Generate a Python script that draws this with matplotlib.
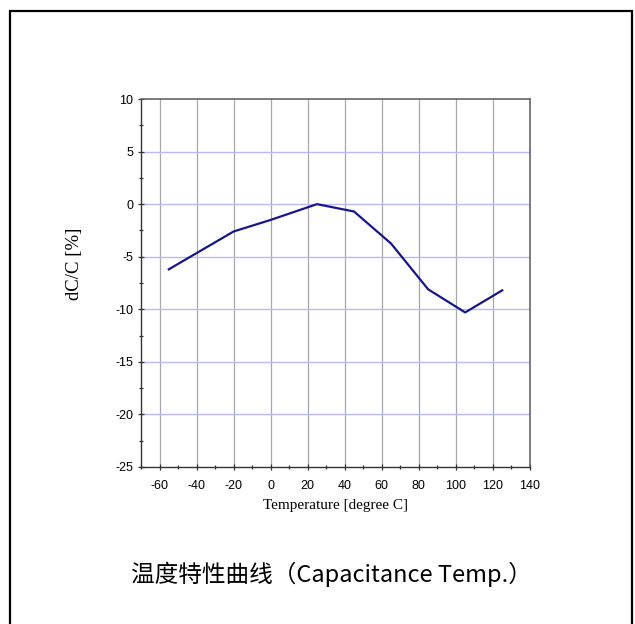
import matplotlib
matplotlib.use("Agg")
import matplotlib.pyplot as plt
from matplotlib.patches import Rectangle
from matplotlib.ticker import MultipleLocator

plt.rcParams['axes.unicode_minus'] = False

# values
temperature = [-55, -20, 0, 25, 45, 65, 85, 105, 125]
dcc = [-6.2, -2.6, -1.5, 0.0, -0.7, -3.75, -8.1, -10.3, -8.2]

x_ticks = [-60, -40, -20, 0, 20, 40, 60, 80, 100, 120, 140]
y_ticks = [10, 5, 0, -5, -10, -15, -20, -25]

fig = plt.figure(figsize=(6.35, 6.24), dpi=100)
W, H = 635, 624

# outer frame (bottom edge runs off the picture)
fig.patches.append(Rectangle((10 / W, -0.05), 622 / W, 1.05 - 11 / H,
                             transform=fig.transFigure, fill=False,
                             edgecolor='black', linewidth=1.6))

ax = fig.add_axes([141 / W, 1 - 467 / H, 389 / W, 368 / H])
ax.set_xlim(-70, 140)
ax.set_ylim(-25, 10)

for x in x_ticks[:-1]:
    ax.axvline(x, color='#a8a8a8', linewidth=0.9, zorder=1)
for y in y_ticks[1:-1]:
    ax.axhline(y, color='#b8b8ff', linewidth=1.0, zorder=1)

ax.plot(temperature, dcc, color='#16168a', linewidth=1.6, zorder=3)

ax.set_xticks(x_ticks)
ax.set_yticks(y_ticks)
ax.xaxis.set_minor_locator(MultipleLocator(10))
ax.yaxis.set_minor_locator(MultipleLocator(2.5))
ax.tick_params(which='both', direction='inout', top=False, right=False,
               labelsize=9, colors='#333333', width=0.9)
ax.tick_params(which='major', length=5)
ax.tick_params(which='minor', length=3)
ax.tick_params(axis='x', which='major', pad=7)
ax.tick_params(axis='y', which='major', pad=3)
for lab in ax.get_xticklabels() + ax.get_yticklabels():
    lab.set_family('Liberation Sans')
    lab.set_color('black')

for side in ['left', 'bottom']:
    ax.spines[side].set_color('#333333')
    ax.spines[side].set_linewidth(1.0)
for side in ['top', 'right']:
    ax.spines[side].set_color('#666666')
    ax.spines[side].set_linewidth(1.2)

ax.set_xlabel('Temperature [degree C]', family='Liberation Serif',
              fontsize=11, labelpad=5)
fig.text(75 / W, 1 - 264 / H, 'dC/C [%]', family='Liberation Serif',
         fontsize=13.5, rotation=90, ha='center', va='center')

fig.text(331 / W, 1 - 574 / H, '温度特性曲线（Capacitance Temp.）',
         family=['Noto Sans CJK SC', 'DejaVu Sans'], fontsize=17,
         ha='center', va='center')

fig.savefig('out.png', dpi=100)
